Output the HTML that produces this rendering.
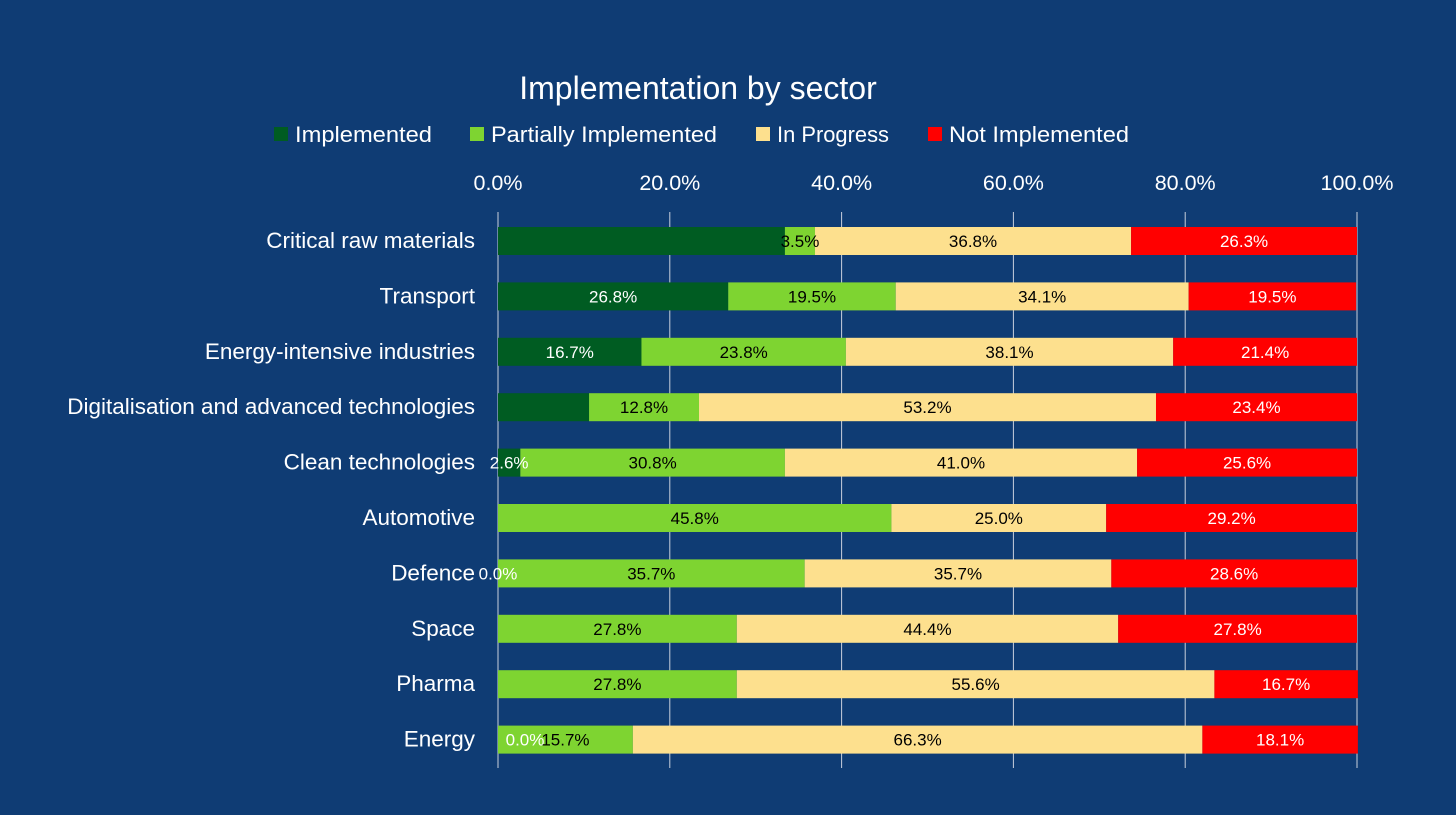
<!DOCTYPE html>
<html><head><meta charset="utf-8"><style>
body{margin:0;background:#0f3c74;}
svg{display:block;font-family:"Liberation Sans",sans-serif;}
</style></head><body>
<svg id="chart" width="1456" height="815">
<rect width="1456" height="815" fill="#0f3c74"/>
<text x="698" y="99" fill="#fff" font-size="32" text-anchor="middle">Implementation by sector</text>
<g id="legend"></g>
<g id="grid"></g>
<g id="bars"></g>
<g id="labels"></g>
</svg>
<script>
const categories=["Critical raw materials","Transport","Energy-intensive industries","Digitalisation and advanced technologies","Clean technologies","Automotive","Defence","Space","Pharma","Energy"];
const implemented=[33.4,26.8,16.7,10.6,2.6,0,0,0,0,0];
const partial=[3.5,19.5,23.8,12.8,30.8,45.8,35.7,27.8,27.8,15.7];
const inProgress=[36.8,34.1,38.1,53.2,41.0,25.0,35.7,44.4,55.6,66.3];
const notImpl=[26.3,19.5,21.4,23.4,25.6,29.2,28.6,27.8,16.7,18.1];
const implementedLabelShown=[false,true,true,false,true,false,true,false,false,true];
const ticks=[0,20,40,60,80,100];
const seriesNames=["Implemented","Partially Implemented","In Progress","Not Implemented"];
const colors=["#005c22","#7ed431","#fde08e","#ff0000"];
const textColors=["#fff","#000","#000","#fff"];
const NS="http://www.w3.org/2000/svg";
const x0=498,x1=1357,yTop=212,yBot=768,rowStart=241,rowStep=55.4,barH=28;
const xs=v=>x0+(x1-x0)*v/100;
const ys=i=>rowStart+i*rowStep;
function mk(tag,attrs,parent,txt){const e=document.createElementNS(NS,tag);for(const k in attrs)e.setAttribute(k,attrs[k]);if(txt!==undefined)e.textContent=txt;parent.appendChild(e);return e;}
const grid=document.getElementById('grid');
ticks.forEach(t=>{
  const l=mk('line',{x1:xs(t),x2:xs(t),y1:yTop,y2:yBot,stroke:"#c8cfdc","stroke-width":1},grid);
  
  
  const tx=mk('text',{x:xs(t),y:190,fill:"#fff","font-size":21.5,"text-anchor":"middle"},grid,t.toFixed(1)+"%");
  
  
});
const legend=document.getElementById('legend');
const lx=[274,470,756,928];
const lw=[137,226,112,180];
seriesNames.forEach((n,i)=>{
  const r=mk('rect',{x:lx[i],y:127,width:14,height:14,fill:colors[i]},legend);
  
  
  const t=mk('text',{x:lx[i]+21,y:142,fill:"#fff","font-size":22,textLength:lw[i],lengthAdjust:"spacingAndGlyphs"},legend,n);
  
  
});
const bars=document.getElementById('bars');
const labels=document.getElementById('labels');
const series=[implemented,partial,inProgress,notImpl];
categories.forEach((c,i)=>{
  const y=ys(i);
  const cl=mk('text',{x:475,y:y+7,fill:"#fff","font-size":22.5,"text-anchor":"end"},bars,c);
  
  
  let acc=0;
  series.forEach((s,k)=>{
    const v=s[i];
    const a=xs(acc),b=xs(acc+v);
    if(v>0){
      const r=mk('rect',{x:a,y:y-barH/2,width:b-a,height:barH,fill:colors[k]},bars);
      
      
    }
    let show=k===0?implementedLabelShown[i]:true;
    if(show){
      let cx=(a+b)/2;
      if(k===0&&v===0&&i===categories.length-1)cx=a+27;
      const t=mk('text',{x:cx,y:y+6,fill:textColors[k],"font-size":17,"text-anchor":"middle"},labels,v.toFixed(1)+"%");
      
      
    }
    acc+=v;
  });
});
</script>
</body></html>
